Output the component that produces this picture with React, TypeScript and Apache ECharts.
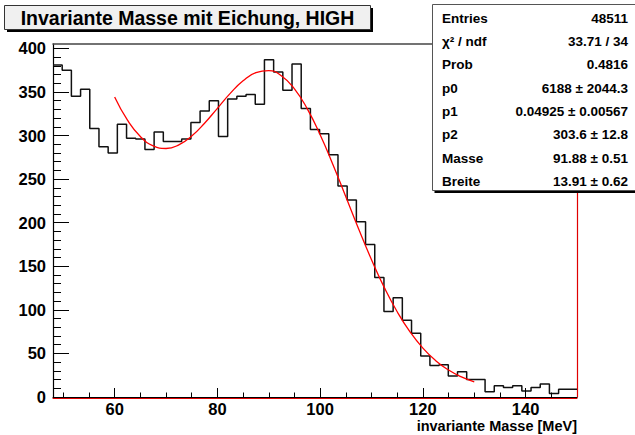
import React, { useEffect, useRef } from "react";
import * as echarts from "echarts";

// ---- data ----
const xMin = 48;
const xMax = 150;
const yMin = 0;
const yMax = 405;
const binCount = 57;
const binValues = [
  381, 375, 345, 353, 308, 287, 280, 313, 297, 296,
  284, 304, 293, 293, 296, 315, 328, 340, 299, 342,
  345, 347, 336, 387, 373, 352, 382, 331, 307, 302,
  278, 242, 226, 201, 175, 137, 98, 114, 88, 73,
  47, 36, 37, 24, 29, 20, 20, 6, 13, 11,
  13, 7, 11, 15, 4, 9, 9,
];
const fitX = [
  60, 62.5, 65, 67.5, 70, 72.5, 75, 77.5, 80, 82.5, 85, 87.5, 90, 92.5, 95,
  97.5, 100, 102.5, 105, 107.5, 110, 112.5, 115, 117.5, 120, 122.5, 125, 127.5, 130,
];
const fitY = [
  344.2, 317.6, 298.9, 288.1, 285.1, 289.3, 299.4, 314.1, 331.2, 348.3, 362.8,
  372.1, 374.4, 368.3, 353.6, 330.6, 301.0, 266.6, 229.7, 192.7, 157.5, 125.5,
  97.8, 74.7, 56.1, 41.7, 30.9, 23.0, 17.4,
];
const xMajorStep = 20;
const xMinorStep = 5;
const yMajorStep = 50;
const yMinorStep = 10;
const titleText = "Invariante Masse mit Eichung, HIGH";
const xAxisTitle = "invariante Masse [MeV]";
const statLabels = ["Entries", "χ² / ndf", "Prob", "p0", "p1", "p2", "Masse", "Breite"];
const statValues = [
  "48511",
  "33.71 / 34",
  "0.4816",
  "6188 ± 2044.3",
  "0.04925 ± 0.00567",
  "303.6 ± 12.8",
  "91.88 ± 0.51",
  "13.91 ± 0.62",
];

const FONT = "'Liberation Sans', Arial, Helvetica, sans-serif";
const W = 635;
const H = 435;
const GRID = { left: 53, right: 58, top: 44, bottom: 38 };

export default function App() {
  const ref = useRef<HTMLDivElement>(null);
  useEffect(() => {
    if (!ref.current) return;
    const chart = echarts.init(ref.current, undefined, { renderer: "svg" });

    const binW = (xMax - xMin) / binCount;
    const histData: number[][] = [];
    binValues.forEach((v, i) => {
      histData.push([xMin + i * binW, v]);
      histData.push([xMin + (i + 1) * binW, v]);
    });
    const fitData = fitX.map((x, i) => [x, fitY[i]]);

    // tick segments in axis units (tick lengths given in px, converted by the plot scale)
    const pxPerX = (W - GRID.left - GRID.right) / (xMax - xMin);
    const pxPerY = (H - GRID.top - GRID.bottom) / (yMax - yMin);
    const tickSegs: any[] = [];
    for (let v = Math.ceil(xMin / xMinorStep) * xMinorStep; v < xMax; v += xMinorStep) {
      const len = (v % xMajorStep === 0 ? 9 : 4.5) / pxPerY;
      tickSegs.push({ coords: [[v, yMin], [v, yMin + len]] });
    }
    for (let v = yMin + yMinorStep; v < yMax; v += yMinorStep) {
      const len = (v % yMajorStep === 0 ? 16 : 8) / pxPerX;
      tickSegs.push({ coords: [[xMin, v], [xMin + len, v]] });
    }

    const off = () => ({ show: false });
    const Z = 100;

    const statEls: any[] = [];
    statLabels.forEach((lab, i) => {
      const y = 18.3 + i * 23.3;
      statEls.push({
        type: "text",
        z: Z + 2,
        x: 442,
        y,
        style: { text: lab, font: `bold 13.5px ${FONT}`, fill: "#000", textAlign: "left", textVerticalAlign: "middle" },
      });
      statEls.push({
        type: "text",
        z: Z + 2,
        x: 628,
        y,
        style: {
          text: statValues[i],
          font: `bold 13.5px ${FONT}`,
          fill: "#000",
          textAlign: "right",
          textVerticalAlign: "middle",
        },
      });
    });

    chart.setOption({
      animation: false,
      backgroundColor: "#ffffff",
      textStyle: { fontFamily: FONT },
      grid: { ...GRID, containLabel: false },
      xAxis: [
        {
          type: "value",
          min: xMin,
          max: xMax,
          position: "bottom",
          minInterval: xMajorStep,
          maxInterval: xMajorStep,
          splitLine: off(),
          axisLine: { show: true, onZero: false, lineStyle: { color: "#000", width: 1.2 } },
          axisTick: off(),
          axisLabel: {
            show: true,
            fontSize: 16.5,
            fontWeight: "bold",
            color: "#000",
            fontFamily: FONT,
            margin: 3,
            formatter: (v: number) => (v % xMajorStep === 0 ? String(v) : ""),
          },
        },
        {
          type: "value",
          min: xMin,
          max: xMax,
          position: "bottom",
          offset: 1.2,
          splitLine: off(),
          axisLine: { show: true, onZero: false, lineStyle: { color: "#e00000", width: 1 } },
          axisTick: off(),
          axisLabel: off(),
        },
        {
          type: "value",
          min: xMin,
          max: xMax,
          position: "top",
          splitLine: off(),
          axisLine: { show: true, onZero: false, lineStyle: { color: "#444", width: 1.6 } },
          axisTick: off(),
          axisLabel: off(),
        },
      ],
      yAxis: [
        {
          type: "value",
          min: yMin,
          max: yMax,
          position: "left",
          interval: yMajorStep,
          splitLine: off(),
          axisLine: { show: true, onZero: false, lineStyle: { color: "#000", width: 1.2 } },
          axisTick: off(),
          axisLabel: {
            show: true,
            fontSize: 16.5,
            fontWeight: "bold",
            color: "#000",
            fontFamily: FONT,
            margin: 7,
            formatter: (v: number) => (v % yMajorStep === 0 ? String(v) : ""),
          },
        },
        {
          type: "value",
          min: yMin,
          max: yMax,
          position: "right",
          splitLine: off(),
          axisLine: { show: true, onZero: false, lineStyle: { color: "#e00000", width: 1.2 } },
          axisTick: off(),
          axisLabel: off(),
        },
      ],
      series: [
        {
          type: "lines",
          coordinateSystem: "cartesian2d",
          xAxisIndex: 0,
          yAxisIndex: 0,
          data: tickSegs,
          silent: true,
          symbol: "none",
          lineStyle: { color: "#000", width: 1, opacity: 1 },
          z: 6,
        },
        {
          type: "line",
          xAxisIndex: 0,
          yAxisIndex: 0,
          data: histData,
          showSymbol: false,
          symbol: "none",
          lineStyle: { color: "#111", width: 1.5 },
          z: 3,
        },
        {
          type: "line",
          xAxisIndex: 0,
          yAxisIndex: 0,
          data: fitData,
          smooth: true,
          showSymbol: false,
          symbol: "none",
          lineStyle: { color: "#ff0000", width: 1.3 },
          z: 4,
        },
      ],
      graphic: [
        { type: "rect", z: Z, shape: { x: 7, y: 8, width: 366, height: 24 }, style: { fill: "#000" } },
        {
          type: "rect",
          z: Z + 1,
          shape: { x: 4.5, y: 5.5, width: 366, height: 24 },
          style: { fill: "#f0f0f0", stroke: "#333", lineWidth: 1 },
        },
        {
          type: "text",
          z: Z + 2,
          x: 187.5,
          y: 17.8,
          style: { text: titleText, font: `bold 19.5px ${FONT}`, fill: "#000", textAlign: "center", textVerticalAlign: "middle" },
        },
        { type: "rect", z: Z, shape: { x: 434.5, y: 7, width: 210, height: 186 }, style: { fill: "#000" } },
        {
          type: "rect",
          z: Z + 1,
          shape: { x: 432.5, y: 4.5, width: 210, height: 186 },
          style: { fill: "#ffffff", stroke: "#555", lineWidth: 1 },
        },
        ...statEls,
        {
          type: "text",
          z: Z,
          x: 577,
          y: 426,
          style: { text: xAxisTitle, font: `bold 14.5px ${FONT}`, fill: "#000", textAlign: "right", textVerticalAlign: "middle" },
        },
      ],
    });
    return () => chart.dispose();
  }, []);
  return <div ref={ref} style={{ position: "fixed", left: 0, top: 0, width: W, height: H }} />;
}
